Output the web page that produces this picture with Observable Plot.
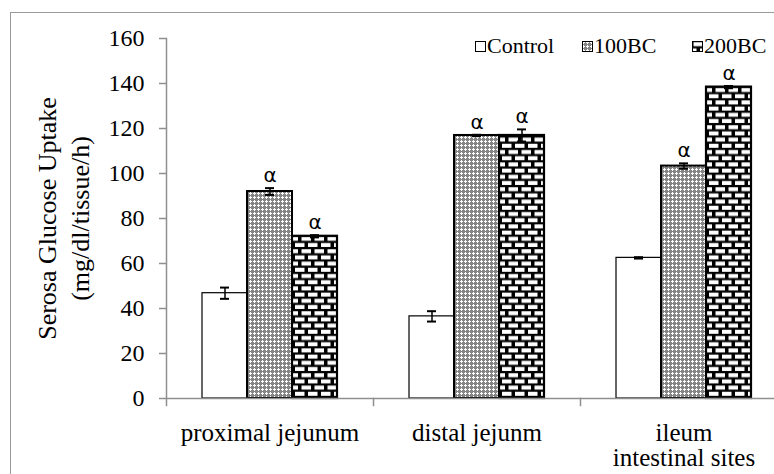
<!DOCTYPE html>
<html><head><meta charset="utf-8">
<script src="https://cdn.jsdelivr.net/npm/d3@7"></script>
<script src="https://cdn.jsdelivr.net/npm/@observablehq/plot@0.6"></script>
<style>
body{margin:0;background:#fff;}
#wrap{position:relative;width:774px;height:474px;overflow:hidden;font-family:"Liberation Serif",serif;background:#fff;}
#border{position:absolute;left:10px;top:12px;width:800px;height:500px;border-left:1.5px solid #9a9a9a;border-top:1.5px solid #9a9a9a;pointer-events:none;}
#chart{position:absolute;left:0;top:0;}
.lg{position:absolute;top:35px;font-size:22px;line-height:22px;display:flex;align-items:center;white-space:nowrap;}
.lg svg{margin-right:1px;}
</style></head><body>
<svg width="0" height="0" style="position:absolute">
<defs>
<pattern id="p100" patternUnits="userSpaceOnUse" width="4" height="4">
<rect width="4" height="4" fill="#858585"/>
<rect x="1" y="0" width="1" height="3" fill="#fff"/>
<rect x="0" y="1" width="3" height="1" fill="#fff"/>
</pattern>
<pattern id="p200" patternUnits="userSpaceOnUse" width="13" height="12.4">
<rect width="13" height="12.4" fill="#000"/>
<rect x="1.5" y="1.2" width="9.5" height="4" fill="#fff"/>
<rect x="0" y="7.4" width="4.5" height="4" fill="#fff"/>
<rect x="8" y="7.4" width="5" height="4" fill="#fff"/>
</pattern>
</defs></svg>
<div id="wrap"><div id="chart"></div><div id="border"></div></div>
<script>
const categories = ["proximal jejunum", "distal jejunm", "ileum\nintestinal sites"];
const series = ["Control", "100BC", "200BC"];
const controlValues = [46.8, 36.5, 62.5];
const bc100Values = [92.0, 116.9, 103.3];
const bc200Values = [72.1, 116.9, 138.4];
const controlErr = [2.5, 2.3, 0.3];
const bc100Err = [1.5, 0.3, 1.2];
const bc200Err = [0.5, 2.7, 0.5];
const controlSig = [false, false, false];
const bc100Sig = [true, true, true];
const bc200Sig = [true, true, true];
const yTicks = [0, 20, 40, 60, 80, 100, 120, 140, 160];
const yTitle = "Serosa Glucose Uptake\n(mg/dl/tissue/h)";
const sigMark = "α";

const valuesBySeries = [controlValues, bc100Values, bc200Values];
const errBySeries = [controlErr, bc100Err, bc200Err];
const sigBySeries = [controlSig, bc100Sig, bc200Sig];
const data = [];
series.forEach((s, si) => categories.forEach((c, ci) => data.push({
  cat: c, series: s, value: valuesBySeries[si][ci], err: errBySeries[si][ci], sig: sigBySeries[si][ci]
})));

const fills = {"Control": "#fff", "100BC": "url(#p100)", "200BC": "url(#p200)"};
const strokeW = {"Control": 1.2, "100BC": 2, "200BC": 2.2};
const axisGray = "#8f8f8f";

const barMarks = series.map(s => Plot.barY(data.filter(d => d.series === s), {
  fx: "cat", x: "series", y: "value", fill: fills[s], stroke: "#000", strokeWidth: strokeW[s]
}));

const chart = Plot.plot({
  width: 774, height: 474,
  marginLeft: 165, marginRight: -14, marginTop: 38, marginBottom: 76,
  style: {fontFamily: "Liberation Serif, serif", background: "transparent", overflow: "visible"},
  fx: {domain: categories, padding: 0, label: null},
  x: {domain: series, paddingInner: 0, paddingOuter: 0.757, axis: null},
  y: {domain: [0, 160], axis: null},
  marks: [
    ...barMarks,
    Plot.ruleY([0], {stroke: axisGray, strokeWidth: 1.5}),
    Plot.frame({anchor: "right", insetTop: 360, insetBottom: -7, stroke: axisGray, strokeWidth: 1.5}),
    Plot.frame({anchor: "left", facetAnchor: "left", insetBottom: -7, stroke: axisGray, strokeWidth: 1.5}),
    Plot.ruleX(data, {fx: "cat", x: "series", y1: d => d.value - d.err, y2: d => d.value + d.err, stroke: "#000", strokeWidth: 1.5}),
    Plot.tickY(data, {fx: "cat", x: "series", y: d => d.value + d.err, insetLeft: 18, insetRight: 18, stroke: "#000", strokeWidth: 2}),
    Plot.tickY(data, {fx: "cat", x: "series", y: d => d.value - d.err, insetLeft: 18, insetRight: 18, stroke: "#000", strokeWidth: 2}),
    Plot.text(data.filter(d => d.sig), {fx: "cat", x: "series", y: d => d.value + d.err, text: () => sigMark,
      lineAnchor: "bottom", dy: -6, fontFamily: "DejaVu Sans", fontSize: 20, fill: "#000"}),
    Plot.axisY({ticks: yTicks, tickSize: 7, tickPadding: 15, fontSize: 24, stroke: axisGray, fill: "#000",
      strokeWidth: 1.5, label: null, facetAnchor: "left"}),
    Plot.axisFx({anchor: "bottom", tickSize: 0, tickPadding: 25, fontSize: 25, fill: "#000", label: null, lineAnchor: "top", lineHeight: 1}),
    Plot.text([yTitle], {frameAnchor: "left", facetAnchor: "left", dx: -105, rotate: -90, fontSize: 26,
      textAnchor: "middle", lineAnchor: "middle", lineHeight: 1.27, fill: "#000", fontFamily: "Liberation Serif"})
  ]
});
document.getElementById("chart").appendChild(chart);

const legendLeft = {"Control": 475, "100BC": 582, "200BC": 692};
const wrap = document.getElementById("wrap");
series.forEach(s => {
  const div = document.createElement("div");
  div.className = "lg";
  div.style.left = legendLeft[s] + "px";
  div.innerHTML = `<svg width="11" height="11"><rect x="0.5" y="0.5" width="10" height="10" fill="${fills[s]}" stroke="#000" stroke-width="1"/></svg><span>${s}</span>`;
  wrap.appendChild(div);
});
</script>
</body></html>
